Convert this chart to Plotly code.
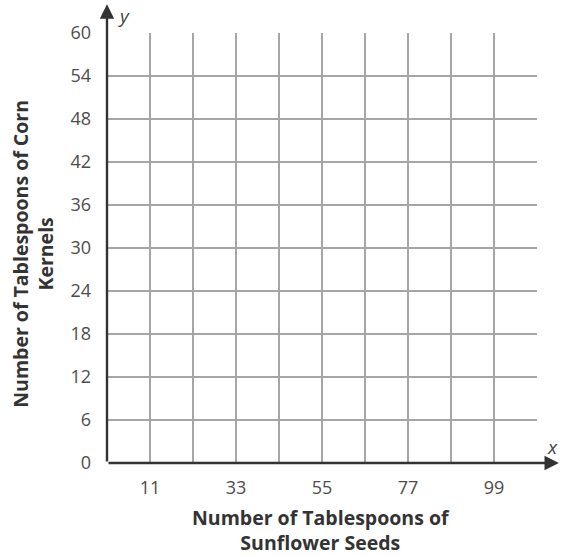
import plotly.graph_objects as go

x_grid = [0, 11, 22, 33, 44, 55, 66, 77, 88, 99, 110]
x_labels = ["", "11", "", "33", "", "55", "", "77", "", "99", ""]
y_grid = [0, 6, 12, 18, 24, 30, 36, 42, 48, 54, 60]
y_labels = [str(v) for v in y_grid]

x_title = "Number of Tablespoons of<br>Sunflower Seeds"
y_title = "Number of Tablespoons of Corn<br>Kernels"

fig = go.Figure()
fig.add_trace(go.Scatter(x=[None], y=[None], mode="markers", showlegend=False))

font_family = "Open Sans, Noto Sans, sans-serif"
grid_color = "#a6a6a6"
axis_color = "#333333"
tick_color = "#4d4d4d"

fig.update_layout(
    width=561, height=556,
    margin=dict(l=107, r=24, t=33, b=93),
    paper_bgcolor="white", plot_bgcolor="white",
    font=dict(family=font_family, size=18, color=tick_color),
    showlegend=False,
)
fig.update_xaxes(
    range=[0, 110], tickvals=x_grid, ticktext=x_labels,
    showgrid=True, gridcolor=grid_color, gridwidth=1.6,
    zeroline=False, showline=False, ticks="", ticklabelstandoff=12,
    tickfont=dict(size=18, color=tick_color),
)
fig.update_yaxes(
    range=[0, 60], tickvals=y_grid, ticktext=y_labels,
    showgrid=True, gridcolor=grid_color, gridwidth=1.6,
    zeroline=False, showline=False, ticks="", ticklabelstandoff=15,
    tickfont=dict(size=18, color=tick_color),
)

# axes with arrows
fig.add_annotation(x=115.6, y=0, ax=0, ay=0, xref="x", yref="y", axref="x", ayref="y",
                   text="", showarrow=True, arrowhead=2, arrowsize=1.2, arrowwidth=2.4,
                   arrowcolor=axis_color)
fig.add_annotation(x=0, y=64.0, ax=0, ay=0, xref="x", yref="y", axref="x", ayref="y",
                   text="", showarrow=True, arrowhead=2, arrowsize=1.2, arrowwidth=2.4,
                   arrowcolor=axis_color)
fig.add_annotation(x=1.035, y=0.037, xref="paper", yref="paper", text="<i>x</i>",
                   xanchor="center", yanchor="middle",
                   showarrow=False, font=dict(size=19, color="#444444"))
fig.add_annotation(x=0.039, y=1.04, xref="paper", yref="paper", text="<i>y</i>",
                   xanchor="center", yanchor="middle",
                   showarrow=False, font=dict(size=19, color="#444444"))

fig.add_annotation(x=0.497, y=-0.155, xref="paper", yref="paper", text="<b>" + x_title + "</b>",
                   showarrow=False, xanchor="center", yanchor="middle",
                   font=dict(size=19.5, color="#333333", family=font_family))
fig.add_annotation(x=-0.174, y=0.487, xref="paper", yref="paper", text="<b>" + y_title + "</b>",
                   showarrow=False, textangle=-90, xanchor="center", yanchor="middle",
                   font=dict(size=19.5, color="#333333", family=font_family))

fig.write_html("out.html", config={"displayModeBar": False},
               post_script="document.body.style.margin='0';")
